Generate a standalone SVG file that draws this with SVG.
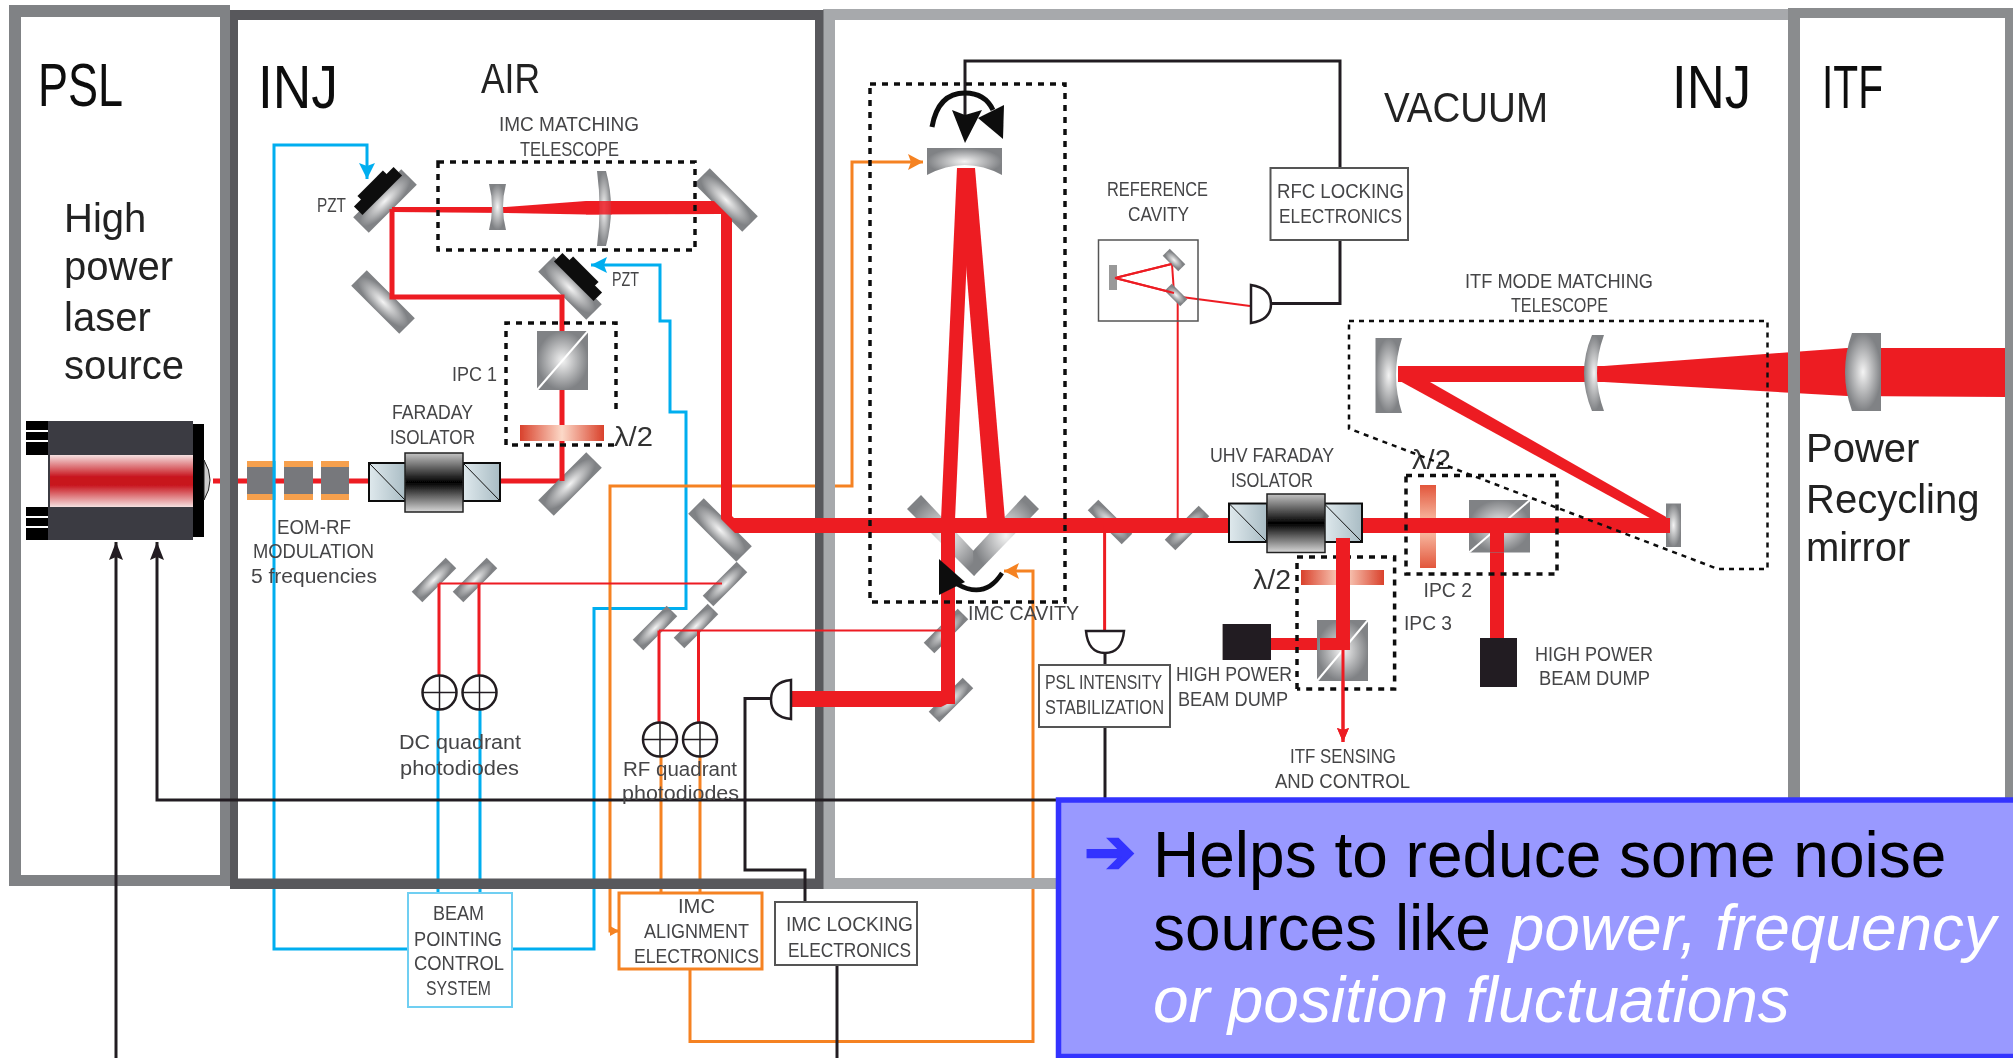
<svg xmlns="http://www.w3.org/2000/svg" xmlns:xlink="http://www.w3.org/1999/xlink" width="2013" height="1058" viewBox="0 0 2013 1058">
<style>
text{font-family:"Liberation Sans",Arial,sans-serif}
.l{font-size:20px;fill:#454547}
.b{font-size:40px;fill:#222}
.h{font-size:62px;fill:#111}
.t{font-size:64px;fill:#000}
.w{font-size:64px;fill:#fff;font-style:italic}
.bl{fill:none;stroke:#00aeef;stroke-width:3}
.or{fill:none;stroke:#f58220;stroke-width:3}
.bk{fill:none;stroke:#231f20;stroke-width:3}
.rd{fill:none;stroke:#ed1c24;stroke-width:3}
.rt{fill:none;stroke:#ed1c24;stroke-width:2}
.dash{fill:none;stroke:#111;stroke-width:3.5;stroke-dasharray:6 6}
.beam{fill:#ed1c24}
.mir{fill:url(#gMir)}
.pd{fill:#fff;stroke:#231f20;stroke-width:2.5}
.bx{fill:#fff;stroke:#555;stroke-width:2}
.cube{fill:url(#gMir)}
.dg{stroke:#fff;stroke-width:2;fill:none}
.fs{fill:url(#gFs);stroke:#111;stroke-width:2}
.fc{fill:url(#gFc);stroke:#222;stroke-width:1.5}
.dump{fill:#231f20}
.eom{fill:#77787b}
.cap{fill:#f6a04d}
</style>
<defs>
<radialGradient id="gMir"><stop offset="0" stop-color="#f4f4f4"/><stop offset="1" stop-color="#808285"/></radialGradient>
<linearGradient id="gPl"><stop offset="0" stop-color="#d9412b"/><stop offset=".5" stop-color="#fcd9c8"/><stop offset="1" stop-color="#d9412b"/></linearGradient>
<linearGradient id="gPlV" x1="0" y1="0" x2="0" y2="1"><stop offset="0" stop-color="#e2563c"/><stop offset=".5" stop-color="#fbc8b0"/><stop offset="1" stop-color="#e2563c"/></linearGradient>
<linearGradient id="gFc" x1="0" y1="0" x2="0" y2="1"><stop offset="0" stop-color="#c4c4c4"/><stop offset=".5" stop-color="#000"/><stop offset="1" stop-color="#d8d8d8"/></linearGradient>
<linearGradient id="gFs" x1="0" y1="0" x2="1" y2="0"><stop offset="0" stop-color="#dfe9ed"/><stop offset="1" stop-color="#a9bcc4"/></linearGradient>
<linearGradient id="gLas" x1="0" y1="0" x2="0" y2="1"><stop offset="0" stop-color="#f5e0e0"/><stop offset=".42" stop-color="#c8161e"/><stop offset=".58" stop-color="#c8161e"/><stop offset="1" stop-color="#f5e0e0"/></linearGradient>
<rect id="mL" x="-34" y="-11" width="68" height="22" class="mir"/>
<rect id="mS" x="-24" y="-7.5" width="48" height="15" class="mir"/>
<g id="quad"><circle r="17" class="pd" fill-opacity="0"/><path d="M-17 0H17M0 -17V17" stroke="#231f20" stroke-width="1.5"/></g>
<marker id="aBl" markerUnits="userSpaceOnUse" markerWidth="18" markerHeight="16" refX="16" refY="8" orient="auto"><path d="M0 0L16 8L0 16L3 8Z" fill="#00aeef"/></marker>
<marker id="aOr" markerUnits="userSpaceOnUse" markerWidth="18" markerHeight="16" refX="15" refY="8" orient="auto"><path d="M0 0L15 8L0 16L3 8Z" fill="#f58220"/></marker>
<marker id="aBk" markerUnits="userSpaceOnUse" markerWidth="20" markerHeight="14" refX="18" refY="7" orient="auto"><path d="M0 0L18 7L0 14L3 7Z" fill="#231f20"/></marker>
<marker id="aRd" markerUnits="userSpaceOnUse" markerWidth="16" markerHeight="12" refX="14" refY="6" orient="auto"><path d="M0 0L14 6L0 12L2 6Z" fill="#ed1c24"/></marker>
<filter id="soft" x="0" y="0" width="1" height="1" filterUnits="objectBoundingBox"><feGaussianBlur stdDeviation="0.6"/></filter>
</defs>
<rect width="2013" height="1058" fill="#fff"/>
<g id="diagram" filter="url(#soft)">

<g id="under-connectors">
<path class="bl" d="M408 949H274V145H367V179" marker-end="url(#aBl)"/>
<path class="bl" d="M512 949H594V608.5H686V412H670V321H660V265H591" marker-end="url(#aBl)"/>
<path class="bl" d="M438 709V893M480 709V893"/>
<path class="or" d="M661 756V893M700 756V893"/>
<path class="or" d="M619 931H610V486H852V162H923" marker-end="url(#aOr)"/>
<path class="or" d="M690 969.5V1041.5H1033V571H1004" marker-end="url(#aOr)"/>
<rect class="beam" x="213" y="478.5" width="350" height="5"/>
<polygon class="beam" points="1398,366 1589,366 1604,366 1847,348 2005,348 2005,397 1847,396 1604,382 1398,382"/>
</g>

<g id="frames">
<path id="frame-vac" fill="#a7a9ac" fill-rule="evenodd" d="M823 9H1795V889H823ZM835 20V878H1790V20Z"/>
<path id="frame-inj" fill="#58595b" fill-rule="evenodd" d="M230 10H823.5V889H230ZM238 20V878.5H815V20Z"/>
<path id="frame-psl" fill="#808285" fill-rule="evenodd" d="M9 5H230V886H9ZM21 17V875H220V17Z"/>
<path id="frame-itf" fill="#8a8c8e" fill-rule="evenodd" d="M1788 8H2013V900H1788ZM1800 18V900H2005V18Z"/>
</g>

<g id="region-labels">
<text class="h" x="38" y="106" textLength="85" lengthAdjust="spacingAndGlyphs">PSL</text>
<text class="h" x="258" y="108" textLength="80" lengthAdjust="spacingAndGlyphs">INJ</text>
<text x="481" y="93" font-size="43" fill="#222" textLength="59" lengthAdjust="spacingAndGlyphs">AIR</text>
<text x="1384" y="122" font-size="42" fill="#222" textLength="164" lengthAdjust="spacingAndGlyphs">VACUUM</text>
<text class="h" x="1672" y="108" textLength="79" lengthAdjust="spacingAndGlyphs">INJ</text>
<text class="h" x="1822" y="108" textLength="61" lengthAdjust="spacingAndGlyphs">ITF</text>
<text class="b" x="64" y="232">High</text>
<text class="b" x="64" y="280">power</text>
<text class="b" x="64" y="331">laser</text>
<text class="b" x="64" y="379">source</text>
<text class="b" x="1806" y="462">Power</text>
<text class="b" x="1806" y="513">Recycling</text>
<text class="b" x="1806" y="561">mirror</text>
</g>

<g id="mirrors">
<use id="m-pzt1" href="#mL" transform="translate(385,201) rotate(-45)"/>
<use id="m-2" href="#mL" transform="translate(383,302) rotate(45)"/>
<use id="m-3" href="#mL" transform="translate(726,200) rotate(45)"/>
<use id="m-pzt2" href="#mL" transform="translate(570,288) rotate(45)"/>
<use id="m-5" href="#mL" transform="translate(570,484) rotate(-45)"/>
<use id="m-6" href="#mL" transform="translate(720,530) rotate(45)"/>
<use id="m-7" href="#mS" transform="translate(725,584) rotate(-45)"/>
<use id="m-dc1" href="#mS" transform="translate(434,580) rotate(-45)"/>
<use id="m-dc2" href="#mS" transform="translate(475,580) rotate(-45)"/>
<use id="m-rf1" href="#mS" transform="translate(655,628) rotate(-45)"/>
<use id="m-rf2" href="#mS" transform="translate(696,626) rotate(-45)"/>
<use id="m-imc1" href="#mS" transform="translate(946,631) rotate(-45)"/>
<use id="m-imc2" href="#mS" transform="translate(951,700) rotate(-45)"/>
<use id="m-psl" href="#mS" transform="translate(1110,522) rotate(45)"/>
<use id="m-ref" href="#mS" transform="translate(1187,528) rotate(-45)"/>
<polygon id="m-imcV-l" class="mir" points="921,495 907,509 974,576 984,562"/>
<polygon id="m-imcV-r" class="mir" points="1025,495 1039,509 974,576 973,551"/>
<path id="m-imc-top" class="mir" d="M927 148H1002V175Q965 155 927 175Z"/>
</g>

<g id="pzt">
<rect x="-28" y="-6" width="56" height="12" fill="#111" transform="translate(378,191) rotate(-45)"/>
<rect x="-18" y="-4" width="36" height="8" fill="#111" transform="translate(373,186) rotate(-45)"/>
<rect x="-28" y="-6" width="56" height="12" fill="#111" transform="translate(578,277) rotate(45)"/>
<rect x="-18" y="-4" width="36" height="8" fill="#111" transform="translate(583,272) rotate(45)"/>
</g>

<g id="beams">
<path class="rd" style="stroke-width:5" d="M562 481V297H392V209"/>
<polygon class="beam" points="392,207 506,207 586,201 714,201 732,219 732,518 721,518 721,214 586,214.5 506,213 392,212"/>
<polygon class="beam" points="721,505 734,518 1231,518 1231,533 735,533 721,519"/>
<polygon class="beam" points="1362,518 1668,518 1668,533 1362,533"/>
<polygon class="beam" points="957,168 971,168 955,520 955,704 941,704 941,520"/>
<polygon class="beam" points="958,168 975,168 1005,520 987,520"/>
<polygon class="beam" points="790,691 941,691 955,691 955,700 941,707 790,707"/>
<polygon class="beam" points="1398,380 1430,382 1668,518 1668,528"/>
<rect class="beam" x="1490" y="528" width="14" height="112"/>
<rect class="beam" x="1336" y="538" width="14" height="102"/>
<rect class="beam" x="1271" y="638" width="79" height="12"/>
</g>

<g id="under-red-lines">
<path class="rd" d="M439 676V583.5M479 583.5V676M659 722V630.5M698.5 630.5V722"/>
<path class="rt" d="M439 583.5H722M659 630.5H943"/>
<path class="rt" d="M1177.7 520V296"/>
<path class="rd" d="M1104.6 525V631"/>
<path class="rd" d="M1343 680V742" marker-end="url(#aRd)"/>
<path class="rt" d="M1115 278L1171.6 264M1174 293L1115 278M1172 264L1174 293M1174 296L1250 306"/>
</g>

<g id="connectors">
<path class="bk" d="M116 1058V542" marker-end="url(#aBk)"/>
<path class="bk" d="M1056 800H157V542" marker-end="url(#aBk)"/>
<path class="bk" d="M771 698.5H745V870H805V902"/>
<path class="bk" d="M837 965V1058"/>
<path class="bk" d="M1105 727V798M1105 653V665"/>
<path class="bk" d="M965 130V61H1340V168"/>
<path class="bk" d="M1340 240V303.6H1270.5"/>
<polygon fill="#f58220" points="610,926 619,931 610,936"/>
</g>

<g id="laser">
<rect x="48" y="421" width="145" height="119" fill="#3a3a42"/>
<rect x="50" y="455" width="143" height="52" fill="url(#gLas)"/>
<rect x="193" y="424" width="11" height="113" fill="#000"/>
<path d="M204 460Q216 480 204 500Z" fill="#ccc" stroke="#222"/>
<rect x="26" y="421" width="22" height="34" fill="#000"/>
<rect x="26" y="507" width="22" height="33" fill="#000"/>
<path d="M26 431H48M26 441H48M26 517H48M26 527H48" stroke="#fff" stroke-width="2"/>
</g>

<g id="eom">
<rect class="cap" x="247" y="461" width="28" height="39"/><rect class="cap" x="284" y="461" width="29" height="39"/><rect class="cap" x="321" y="461" width="28" height="39"/>
<rect class="eom" x="247" y="467" width="28" height="27"/><rect class="eom" x="284" y="467" width="29" height="27"/><rect class="eom" x="321" y="467" width="28" height="27"/>
<path d="M274 461V500" stroke="#00aeef" stroke-width="3"/>
<text class="l" x="277" y="534" textLength="74" lengthAdjust="spacingAndGlyphs">EOM-RF</text>
<text class="l" x="253" y="558" textLength="121" lengthAdjust="spacingAndGlyphs">MODULATION</text>
<text class="l" x="251" y="582.5" textLength="126" lengthAdjust="spacingAndGlyphs">5 frequencies</text>
</g>

<g id="faraday">
<rect class="fs" x="369" y="463" width="37" height="38"/><path d="M369 463L406 501" stroke="#111" fill="none"/>
<rect class="fs" x="463" y="463" width="37" height="38"/><path d="M463 463L500 501" stroke="#111" fill="none"/>
<rect class="fc" x="405" y="453" width="58" height="59"/>
<text class="l" x="392" y="419" textLength="81" lengthAdjust="spacingAndGlyphs">FARADAY</text>
<text class="l" x="390" y="443.5" textLength="85" lengthAdjust="spacingAndGlyphs">ISOLATOR</text>
</g>

<g id="imc-telescope">
<rect class="dash" x="438" y="162" width="257" height="88"/>
<path class="mir" d="M489 184H506Q500 207 506 230H489Q495 207 489 184Z"/>
<path class="mir" d="M597 171H606Q616 208 606 246H597Q602 208 597 171Z"/>
<path d="M586 201H612V214.5H586Z" fill="#ed1c24" opacity=".85"/>
<text class="l" x="499" y="131" textLength="140" lengthAdjust="spacingAndGlyphs">IMC MATCHING</text>
<text class="l" x="520" y="156" textLength="99" lengthAdjust="spacingAndGlyphs">TELESCOPE</text>
<text class="l" x="317" y="212" textLength="29" lengthAdjust="spacingAndGlyphs">PZT</text>
<text class="l" x="612" y="286" textLength="27" lengthAdjust="spacingAndGlyphs">PZT</text>
</g>

<g id="ipc1">
<path class="dash" d="M616 409V323H506V445H616"/>
<rect class="cube" x="537" y="331" width="51" height="59"/>
<path class="dg" d="M537 390L588 331"/>
<rect fill="url(#gPl)" x="520" y="425" width="84" height="16"/>
<text class="l" x="452" y="381" textLength="45" lengthAdjust="spacingAndGlyphs">IPC 1</text>
<text x="614" y="446" font-size="27" fill="#333" textLength="39" lengthAdjust="spacingAndGlyphs">λ/2</text>
</g>

<g id="dc-photodiodes">
<use href="#quad" x="439.5" y="692.5"/><use href="#quad" x="479.5" y="692.5"/>
<text class="l" x="399" y="749" textLength="122" lengthAdjust="spacingAndGlyphs">DC quadrant</text>
<text class="l" x="400" y="775" textLength="119" lengthAdjust="spacingAndGlyphs">photodiodes</text>
</g>
<g id="rf-photodiodes">
<use href="#quad" x="660" y="739.5"/><use href="#quad" x="700" y="739.5"/>
<text class="l" x="623" y="775.5" textLength="114" lengthAdjust="spacingAndGlyphs">RF quadrant</text>
<text class="l" x="622" y="800" textLength="117" lengthAdjust="spacingAndGlyphs">photodiodes</text>
</g>

<g id="beam-pointing">
<rect x="408" y="893" width="104" height="114" fill="#fff" stroke="#6fcff2" stroke-width="2"/>
<text class="l" x="433" y="920" textLength="51" lengthAdjust="spacingAndGlyphs">BEAM</text>
<text class="l" x="414" y="945.5" textLength="88" lengthAdjust="spacingAndGlyphs">POINTING</text>
<text class="l" x="414" y="970" textLength="90" lengthAdjust="spacingAndGlyphs">CONTROL</text>
<text class="l" x="426" y="995" textLength="65" lengthAdjust="spacingAndGlyphs">SYSTEM</text>
</g>
<g id="imc-alignment">
<rect x="619" y="893" width="143" height="76" fill="#fff" stroke="#f58220" stroke-width="3"/>
<text class="l" x="678" y="913" textLength="37" lengthAdjust="spacingAndGlyphs">IMC</text>
<text class="l" x="644" y="938" textLength="105" lengthAdjust="spacingAndGlyphs">ALIGNMENT</text>
<text class="l" x="634" y="963" textLength="125" lengthAdjust="spacingAndGlyphs">ELECTRONICS</text>
</g>
<g id="imc-locking">
<rect class="bx" x="775" y="902" width="142" height="63"/>
<text class="l" x="786" y="931" textLength="127" lengthAdjust="spacingAndGlyphs">IMC LOCKING</text>
<text class="l" x="788" y="956.5" textLength="123" lengthAdjust="spacingAndGlyphs">ELECTRONICS</text>
</g>
<g id="imc-pd"><path class="pd" d="M791 680Q771 682 771 700Q771 717 791 719Z"/></g>

<g id="imc-cavity">
<rect class="dash" x="870" y="84" width="195" height="518"/>
<path d="M932 127Q938 93 965 93Q985 93 993 110" fill="none" stroke="#111" stroke-width="5"/>
<polygon fill="#111" points="952,110 965,115 982,110 965,143"/>
<polygon fill="#111" points="1004,105 1003,139 978,118"/>
<path d="M957 584Q985 600 1002 573" fill="none" stroke="#111" stroke-width="4.5"/>
<polygon fill="#111" points="939,559 965,582 939,595"/>
<text class="l" x="968" y="620" textLength="111" lengthAdjust="spacingAndGlyphs">IMC  CAVITY</text>
</g>

<g id="reference-cavity">
<rect x="1098.5" y="240" width="99.5" height="81" fill="none" stroke="#555" stroke-width="1.5"/>
<rect x="1109" y="265" width="8" height="25" fill="#999"/>
<rect x="-11" y="-5" width="22" height="10" class="mir" transform="translate(1174,260) rotate(45)"/>
<rect x="-11" y="-5" width="22" height="10" class="mir" transform="translate(1176,295) rotate(45)"/>
<path class="rt" d="M1115 278L1171.6 264M1174 293L1115 278"/>
<text class="l" x="1107" y="196" textLength="101" lengthAdjust="spacingAndGlyphs">REFERENCE</text>
<text class="l" x="1128" y="221" textLength="61" lengthAdjust="spacingAndGlyphs">CAVITY</text>
<path class="pd" d="M1251 285Q1271 288 1271 304Q1271 320 1251 323Z"/>
</g>
<g id="rfc-locking">
<rect class="bx" x="1270.5" y="168" width="137.5" height="72"/>
<text class="l" x="1277" y="197.5" textLength="127" lengthAdjust="spacingAndGlyphs">RFC LOCKING</text>
<text class="l" x="1279" y="222.5" textLength="123" lengthAdjust="spacingAndGlyphs">ELECTRONICS</text>
</g>

<g id="psl-intensity">
<path class="pd" d="M1086 631H1124Q1122 653 1105 653Q1088 653 1086 631Z"/>
<rect class="bx" x="1039" y="665" width="131" height="62"/>
<text class="l" x="1045" y="689" textLength="117" lengthAdjust="spacingAndGlyphs">PSL INTENSITY</text>
<text class="l" x="1045" y="714" textLength="119" lengthAdjust="spacingAndGlyphs">STABILIZATION</text>
</g>

<g id="uhv-faraday">
<rect class="fs" x="1229" y="503.5" width="38" height="38.5"/><path d="M1229 503.5L1267 542" stroke="#111" fill="none"/>
<rect class="fs" x="1324" y="503.5" width="38" height="38.5"/><path d="M1324 503.5L1362 542" stroke="#111" fill="none"/>
<rect class="fc" x="1267" y="494" width="58" height="58.5"/>
<text class="l" x="1210" y="462" textLength="124" lengthAdjust="spacingAndGlyphs">UHV FARADAY</text>
<text class="l" x="1231" y="487" textLength="82" lengthAdjust="spacingAndGlyphs">ISOLATOR</text>
</g>

<g id="ipc2">
<rect class="dash" x="1406" y="475.5" width="151" height="98.5"/>
<rect fill="url(#gPlV)" x="1420" y="485" width="16" height="83"/>
<rect class="beam" x="1420" y="518" width="16" height="15"/>
<rect class="cube" x="1469" y="500" width="61" height="52.5"/>
<path class="dg" d="M1469 552.5L1530 500"/>
<rect class="beam" x="1469" y="518" width="61" height="15"/>
<rect class="beam" x="1490" y="530" width="14" height="22"/>
<text class="l" x="1423.5" y="597" textLength="48.5" lengthAdjust="spacingAndGlyphs">IPC 2</text>
<text x="1412" y="469" font-size="27" fill="#333" textLength="39" lengthAdjust="spacingAndGlyphs">λ/2</text>
</g>
<g id="dump2">
<rect class="dump" x="1480" y="638" width="37" height="49"/>
<text class="l" x="1535" y="661" textLength="118" lengthAdjust="spacingAndGlyphs">HIGH POWER</text>
<text class="l" x="1539" y="685" textLength="111" lengthAdjust="spacingAndGlyphs">BEAM DUMP</text>
</g>

<g id="ipc3">
<path class="dash" d="M1297 689V557H1394.6V689H1297"/>
<rect fill="url(#gPl)" x="1301" y="570" width="83" height="15"/>
<rect class="cube" x="1317" y="620" width="51" height="61"/>
<path class="dg" d="M1317 681L1368 620"/>
<rect class="beam" x="1336" y="538" width="14" height="102"/>
<rect class="beam" x="1320" y="638" width="30" height="12"/>
<path class="rd" d="M1343 650V742" marker-end="url(#aRd)"/>
<text class="l" x="1404" y="630" textLength="48" lengthAdjust="spacingAndGlyphs">IPC 3</text>
<text x="1253" y="589" font-size="27" fill="#333" textLength="38" lengthAdjust="spacingAndGlyphs">λ/2</text>
<text class="l" x="1290" y="763" textLength="106" lengthAdjust="spacingAndGlyphs">ITF SENSING</text>
<text class="l" x="1275" y="788" textLength="135" lengthAdjust="spacingAndGlyphs">AND CONTROL</text>
</g>
<g id="dump1">
<rect class="dump" x="1222.6" y="624" width="48.4" height="36"/>
<text class="l" x="1176" y="681" textLength="116" lengthAdjust="spacingAndGlyphs">HIGH POWER</text>
<text class="l" x="1178" y="706" textLength="110" lengthAdjust="spacingAndGlyphs">BEAM DUMP</text>
</g>

<g id="itf-telescope">
<path class="dash" style="stroke-width:2.5;stroke-dasharray:5 5" d="M1349 321H1767.5V569H1718L1349 428.6V321"/>
<path class="mir" d="M1375.5 338H1402Q1390 375 1402 413H1375.5Z"/>
<path class="mir" d="M1592 335H1604Q1590 373 1604 411H1592Q1576 373 1592 335Z"/>
<rect class="mir" x="1666" y="503.5" width="15" height="43.5"/>
<rect class="beam" x="1660" y="518" width="10" height="15"/>
<text class="l" x="1465" y="288" textLength="188" lengthAdjust="spacingAndGlyphs">ITF MODE MATCHING</text>
<text class="l" x="1511" y="312" textLength="97" lengthAdjust="spacingAndGlyphs">TELESCOPE</text>
</g>
<g id="recycling-mirror">
<path class="mir" d="M1852 333H1881V411H1852Q1838 372 1852 333Z"/>
</g>
</g>

<g id="callout">
<rect x="1058.5" y="800" width="970" height="256.5" fill="#9999ff" stroke="#3333ff" stroke-width="5.5"/>
<text x="1084" y="873" font-size="62" style="font-family:'DejaVu Sans',sans-serif;stroke:#3333ff;stroke-width:2" fill="#3333ff">➔</text>
<text class="t" x="1153" y="877">Helps to reduce some noise</text>
<text class="t" x="1153" y="950">sources like <tspan class="w">power, frequency</tspan></text>
<text class="w" x="1153" y="1022">or position fluctuations</text>
</g>
</svg>
